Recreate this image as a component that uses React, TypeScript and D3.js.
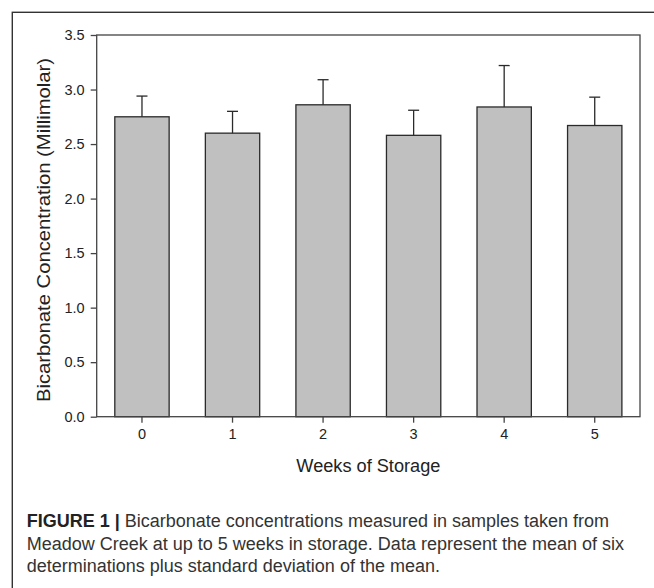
import React, { useEffect, useRef } from 'react';
import * as d3 from 'd3';

// weeks of storage and bicarbonate values
const weeks = ['0', '1', '2', '3', '4', '5'];
const means = [2.75, 2.6, 2.86, 2.58, 2.84, 2.67];
const errTops = [2.94, 2.8, 3.09, 2.81, 3.22, 2.93];
const yTicks = [0, 0.5, 1.0, 1.5, 2.0, 2.5, 3.0, 3.5];

const captionLines = [
  'Bicarbonate concentrations measured in samples taken from',
  'Meadow Creek at up to 5 weeks in storage. Data represent the mean of six',
  'determinations plus standard deviation of the mean.',
];

const App = () => {
  const svgRef = useRef<SVGSVGElement>(null);

  useEffect(() => {
    if (!svgRef.current) return;
    const svg = d3.select(svgRef.current);
    svg.selectAll('*').remove();

    const width = 654;
    const height = 588;
    const plot = { left: 96.7, right: 640, top: 35, bottom: 416.7 };
    const font = '"Liberation Sans", Arial, sans-serif';

    svg.attr('width', width).attr('height', height);

    // outer figure frame (runs off the right and bottom edge)
    svg.append('rect')
      .attr('x', 12.3).attr('y', 12.3)
      .attr('width', 700).attr('height', 700)
      .attr('fill', 'none')
      .attr('stroke', '#333')
      .attr('stroke-width', 1.4);

    const x = d3.scaleBand()
      .domain(weeks)
      .range([plot.left, plot.right])
      .paddingInner(0.4)
      .paddingOuter(0.2);

    const y = d3.scaleLinear()
      .domain([0, 3.5])
      .range([plot.bottom, plot.top]);

    // bars
    svg.append('g')
      .selectAll('rect')
      .data(weeks)
      .join('rect')
      .attr('x', d => x(d)!)
      .attr('y', (d, i) => y(means[i]))
      .attr('width', x.bandwidth())
      .attr('height', (d, i) => y(0) - y(means[i]))
      .attr('fill', '#c0c0c0')
      .attr('stroke', '#2a2a2a')
      .attr('stroke-width', 1.3);

    // error bars
    const err = svg.append('g')
      .attr('stroke', '#2a2a2a')
      .attr('stroke-width', 1.3);
    weeks.forEach((d, i) => {
      const cx = x(d)! + x.bandwidth() / 2;
      err.append('line')
        .attr('x1', cx).attr('x2', cx)
        .attr('y1', y(means[i])).attr('y2', y(errTops[i]));
      err.append('line')
        .attr('x1', cx - 5.5).attr('x2', cx + 5.5)
        .attr('y1', y(errTops[i])).attr('y2', y(errTops[i]));
    });

    // plot box
    svg.append('rect')
      .attr('x', plot.left).attr('y', plot.top)
      .attr('width', plot.right - plot.left)
      .attr('height', plot.bottom - plot.top)
      .attr('fill', 'none')
      .attr('stroke', '#444')
      .attr('stroke-width', 1.3);

    // y axis
    const yAxis = d3.axisLeft(y)
      .tickValues(yTicks)
      .tickSize(6)
      .tickPadding(6)
      .tickFormat(d3.format('.1f'));
    const yg = svg.append('g')
      .attr('transform', `translate(${plot.left},0)`)
      .call(yAxis);
    yg.select('.domain').remove();
    yg.selectAll('line').attr('stroke', '#444').attr('stroke-width', 1.3);
    yg.selectAll('text')
      .attr('font-family', font)
      .attr('font-size', 14.5)
      .attr('fill', '#222');

    // x axis
    const xAxis = d3.axisBottom(x).tickSize(6).tickPadding(6);
    const xg = svg.append('g')
      .attr('transform', `translate(0,${plot.bottom})`)
      .call(xAxis);
    xg.select('.domain').remove();
    xg.selectAll('line').attr('stroke', '#444').attr('stroke-width', 1.3);
    xg.selectAll('text')
      .attr('font-family', font)
      .attr('font-size', 14.5)
      .attr('fill', '#222');

    // axis titles
    svg.append('text')
      .attr('x', (plot.left + plot.right) / 2)
      .attr('y', 471.5)
      .attr('text-anchor', 'middle')
      .attr('font-family', font)
      .attr('font-size', 17.5)
      .attr('textLength', 144)
      .attr('lengthAdjust', 'spacingAndGlyphs')
      .attr('fill', '#222')
      .text('Weeks of Storage');

    svg.append('text')
      .attr('transform', 'translate(50,230) rotate(-90)')
      .attr('text-anchor', 'middle')
      .attr('font-family', font)
      .attr('font-size', 17.5)
      .attr('textLength', 344)
      .attr('lengthAdjust', 'spacingAndGlyphs')
      .attr('fill', '#222')
      .text('Bicarbonate Concentration (Millimolar)');

    // caption
    const cap = svg.append('g')
      .attr('font-family', font)
      .attr('font-size', 18)
      .attr('fill', '#333');
    const first = cap.append('text').attr('x', 26.7).attr('y', 527.3);
    first.append('tspan').attr('font-weight', 'bold').attr('fill', '#222').text('FIGURE 1 | ');
    first.append('tspan').text(captionLines[0]);
    cap.append('text').attr('x', 26.7).attr('y', 549.8).text(captionLines[1]);
    cap.append('text').attr('x', 26.7).attr('y', 572.3).text(captionLines[2]);
  }, []);

  return (
    <svg
      ref={svgRef}
      style={{ position: 'absolute', left: 0, top: 0, background: '#fff' }}
    ></svg>
  );
};

export default App;
